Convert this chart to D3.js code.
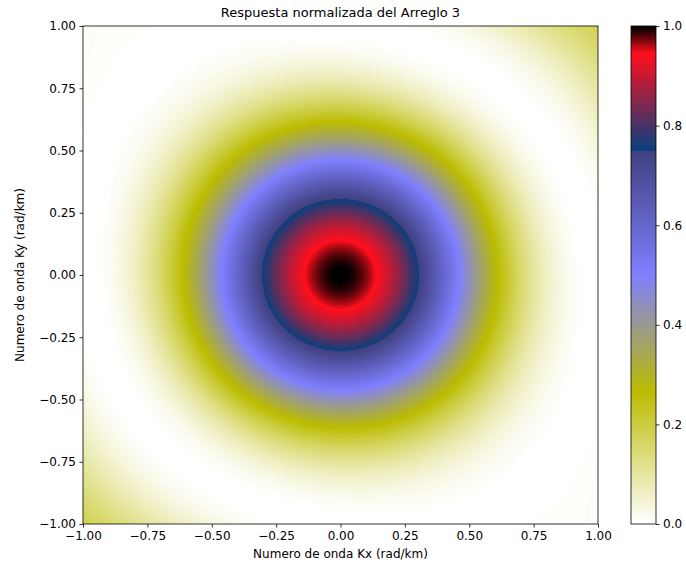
<!DOCTYPE html>
<html>
<head>
<meta charset="utf-8">
<script src="https://cdn.jsdelivr.net/npm/d3@7"></script>
<style>
  html, body { margin: 0; padding: 0; background: #ffffff; }
  svg { display: block; font-family: "DejaVu Sans", sans-serif; }
</style>
</head>
<body>
<svg id="chart" width="686" height="566"></svg>
<script>
// Station coordinates of array 3 (km, east / north of the array centre)
const stationX = [1.46, 1.21, 1.72, -1.46, -1.72, -1.21,
                  -1.74, -0.84, -2.38, 0.89, -2.67, 1.74, 0.84, 2.38, -0.89, 2.67];
const stationY = [1.23, 1.53, 0.92, -1.23, -0.92, -1.53,
                  2.07, 2.57, 1.28, 2.55, -0.43, -2.07, -2.57, -1.28, -2.55, 0.43];

// Wavenumber window and tick labels (rad/km)
const kxTicks = [-1.0, -0.75, -0.5, -0.25, 0.0, 0.25, 0.5, 0.75, 1.0];
const kyTicks = [-1.0, -0.75, -0.5, -0.25, 0.0, 0.25, 0.5, 0.75, 1.0];
const colorbarTicks = [0.0, 0.2, 0.4, 0.6, 0.8, 1.0];

// gist_stern segment data (x, value below, value above); the map is used reversed
const sternRed = [[0.0, 0.0, 0.0], [0.0547, 1.0, 1.0], [0.25, 0.027, 0.25], [1.0, 1.0, 1.0]];
const sternGreen = [[0.0, 0.0, 0.0], [1.0, 1.0, 1.0]];
const sternBlue = [[0.0, 0.0, 0.0], [0.5, 1.0, 1.0], [0.735, 0.0, 0.0], [1.0, 1.0, 1.0]];

const W = 686, H = 566;
const plot = { left: 83, right: 598, top: 26, bottom: 524 };
const cbar = { left: 631, right: 656, top: 26, bottom: 524 };

// 256-entry lookup table built the same way as a LinearSegmentedColormap
function channelLut(seg, n) {
  const out = new Float64Array(n);
  for (let i = 0; i < n; i++) {
    const x = i / (n - 1);
    if (i === 0) { out[i] = seg[0][2]; continue; }
    if (i === n - 1) { out[i] = seg[seg.length - 1][1]; continue; }
    let j = 1;
    while (j < seg.length - 1 && seg[j][0] < x) j++;
    const x0 = seg[j - 1][0], x1 = seg[j][0];
    const t = (x - x0) / (x1 - x0);
    out[i] = t * (seg[j][1] - seg[j - 1][2]) + seg[j - 1][2];
  }
  return out;
}
const N_LUT = 256;
const lutR = channelLut(sternRed, N_LUT), lutG = channelLut(sternGreen, N_LUT), lutB = channelLut(sternBlue, N_LUT);
function colorOf(v) {
  let idx = Math.floor(v * N_LUT);
  if (idx < 0) idx = 0;
  if (idx > N_LUT - 1) idx = N_LUT - 1;
  const j = N_LUT - 1 - idx; // reversed map
  return [Math.round(lutR[j] * 255), Math.round(lutG[j] * 255), Math.round(lutB[j] * 255)];
}

const x = d3.scaleLinear().domain([-1, 1]).range([plot.left, plot.right]);
const y = d3.scaleLinear().domain([-1, 1]).range([plot.bottom, plot.top]);
const c = d3.scaleLinear().domain([0, 1]).range([cbar.bottom, cbar.top]);

// Normalised array response |sum exp(i k.r)|^2 / N^2
function response(kx, ky) {
  let re = 0, im = 0;
  for (let n = 0; n < stationX.length; n++) {
    const ph = kx * stationX[n] + ky * stationY[n];
    re += Math.cos(ph);
    im += Math.sin(ph);
  }
  const nn = stationX.length;
  return (re * re + im * im) / (nn * nn);
}

const svg = d3.select("#chart");
svg.append("rect").attr("width", W).attr("height", H).attr("fill", "#ffffff");

// Response map, one cell per screen pixel of the axes
const pw = plot.right - plot.left, ph = plot.bottom - plot.top;
const cv = document.createElement("canvas");
cv.width = pw; cv.height = ph;
const ctx = cv.getContext("2d");
const img = ctx.createImageData(pw, ph);
for (let j = 0; j < ph; j++) {
  const ky = y.invert(plot.top + j + 0.5);
  for (let i = 0; i < pw; i++) {
    const kx = x.invert(plot.left + i + 0.5);
    const col = colorOf(response(kx, ky));
    const o = (j * pw + i) * 4;
    img.data[o] = col[0]; img.data[o + 1] = col[1]; img.data[o + 2] = col[2]; img.data[o + 3] = 255;
  }
}
ctx.putImageData(img, 0, 0);
svg.append("image")
  .attr("x", plot.left).attr("y", plot.top)
  .attr("width", pw).attr("height", ph)
  .attr("preserveAspectRatio", "none")
  .attr("href", cv.toDataURL());

// Colour bar
const cw = cbar.right - cbar.left, chh = cbar.bottom - cbar.top;
const cv2 = document.createElement("canvas");
cv2.width = 1; cv2.height = chh;
const ctx2 = cv2.getContext("2d");
const img2 = ctx2.createImageData(1, chh);
for (let j = 0; j < chh; j++) {
  const col = colorOf(c.invert(cbar.top + j + 0.5));
  img2.data[j * 4] = col[0]; img2.data[j * 4 + 1] = col[1]; img2.data[j * 4 + 2] = col[2]; img2.data[j * 4 + 3] = 255;
}
ctx2.putImageData(img2, 0, 0);
svg.append("image")
  .attr("x", cbar.left).attr("y", cbar.top)
  .attr("width", cw).attr("height", chh)
  .attr("preserveAspectRatio", "none")
  .style("image-rendering", "pixelated")
  .attr("href", cv2.toDataURL());

const tickFont = 12;
function styleAxis(g) {
  g.select(".domain").remove();
  g.selectAll(".tick line").attr("stroke", "#000").attr("stroke-width", 0.8);
  g.selectAll(".tick text").attr("fill", "#000").attr("font-size", tickFont).attr("font-family", "DejaVu Sans, sans-serif");
}

svg.append("g")
  .attr("transform", `translate(0,${plot.bottom})`)
  .call(d3.axisBottom(x).tickValues(kxTicks).tickFormat(d3.format(".2f")).tickSize(3.5).tickPadding(3.5))
  .call(styleAxis);
svg.append("g")
  .attr("transform", `translate(${plot.left},0)`)
  .call(d3.axisLeft(y).tickValues(kyTicks).tickFormat(d3.format(".2f")).tickSize(3.5).tickPadding(3.5))
  .call(styleAxis);
svg.append("g")
  .attr("transform", `translate(${cbar.right},0)`)
  .call(d3.axisRight(c).tickValues(colorbarTicks).tickFormat(d3.format(".1f")).tickSize(3.5).tickPadding(3.5))
  .call(styleAxis);

// Frames
svg.append("rect")
  .attr("x", plot.left).attr("y", plot.top).attr("width", pw).attr("height", ph)
  .attr("fill", "none").attr("stroke", "#000").attr("stroke-width", 0.8);
svg.append("rect")
  .attr("x", cbar.left).attr("y", cbar.top).attr("width", cw).attr("height", chh)
  .attr("fill", "none").attr("stroke", "#000").attr("stroke-width", 0.8);

// Titles
svg.append("text")
  .attr("x", (plot.left + plot.right) / 2).attr("y", 17)
  .attr("text-anchor", "middle").attr("font-size", 13).attr("fill", "#000")
  .text("Respuesta normalizada del Arreglo 3");
svg.append("text")
  .attr("x", (plot.left + plot.right) / 2).attr("y", 558)
  .attr("text-anchor", "middle").attr("font-size", 12).attr("fill", "#000")
  .text("Numero de onda Kx (rad/km)");
svg.append("text")
  .attr("transform", `translate(24,${(plot.top + plot.bottom) / 2}) rotate(-90)`)
  .attr("text-anchor", "middle").attr("font-size", 12).attr("fill", "#000")
  .text("Numero de onda Ky (rad/km)");
</script>
</body>
</html>
